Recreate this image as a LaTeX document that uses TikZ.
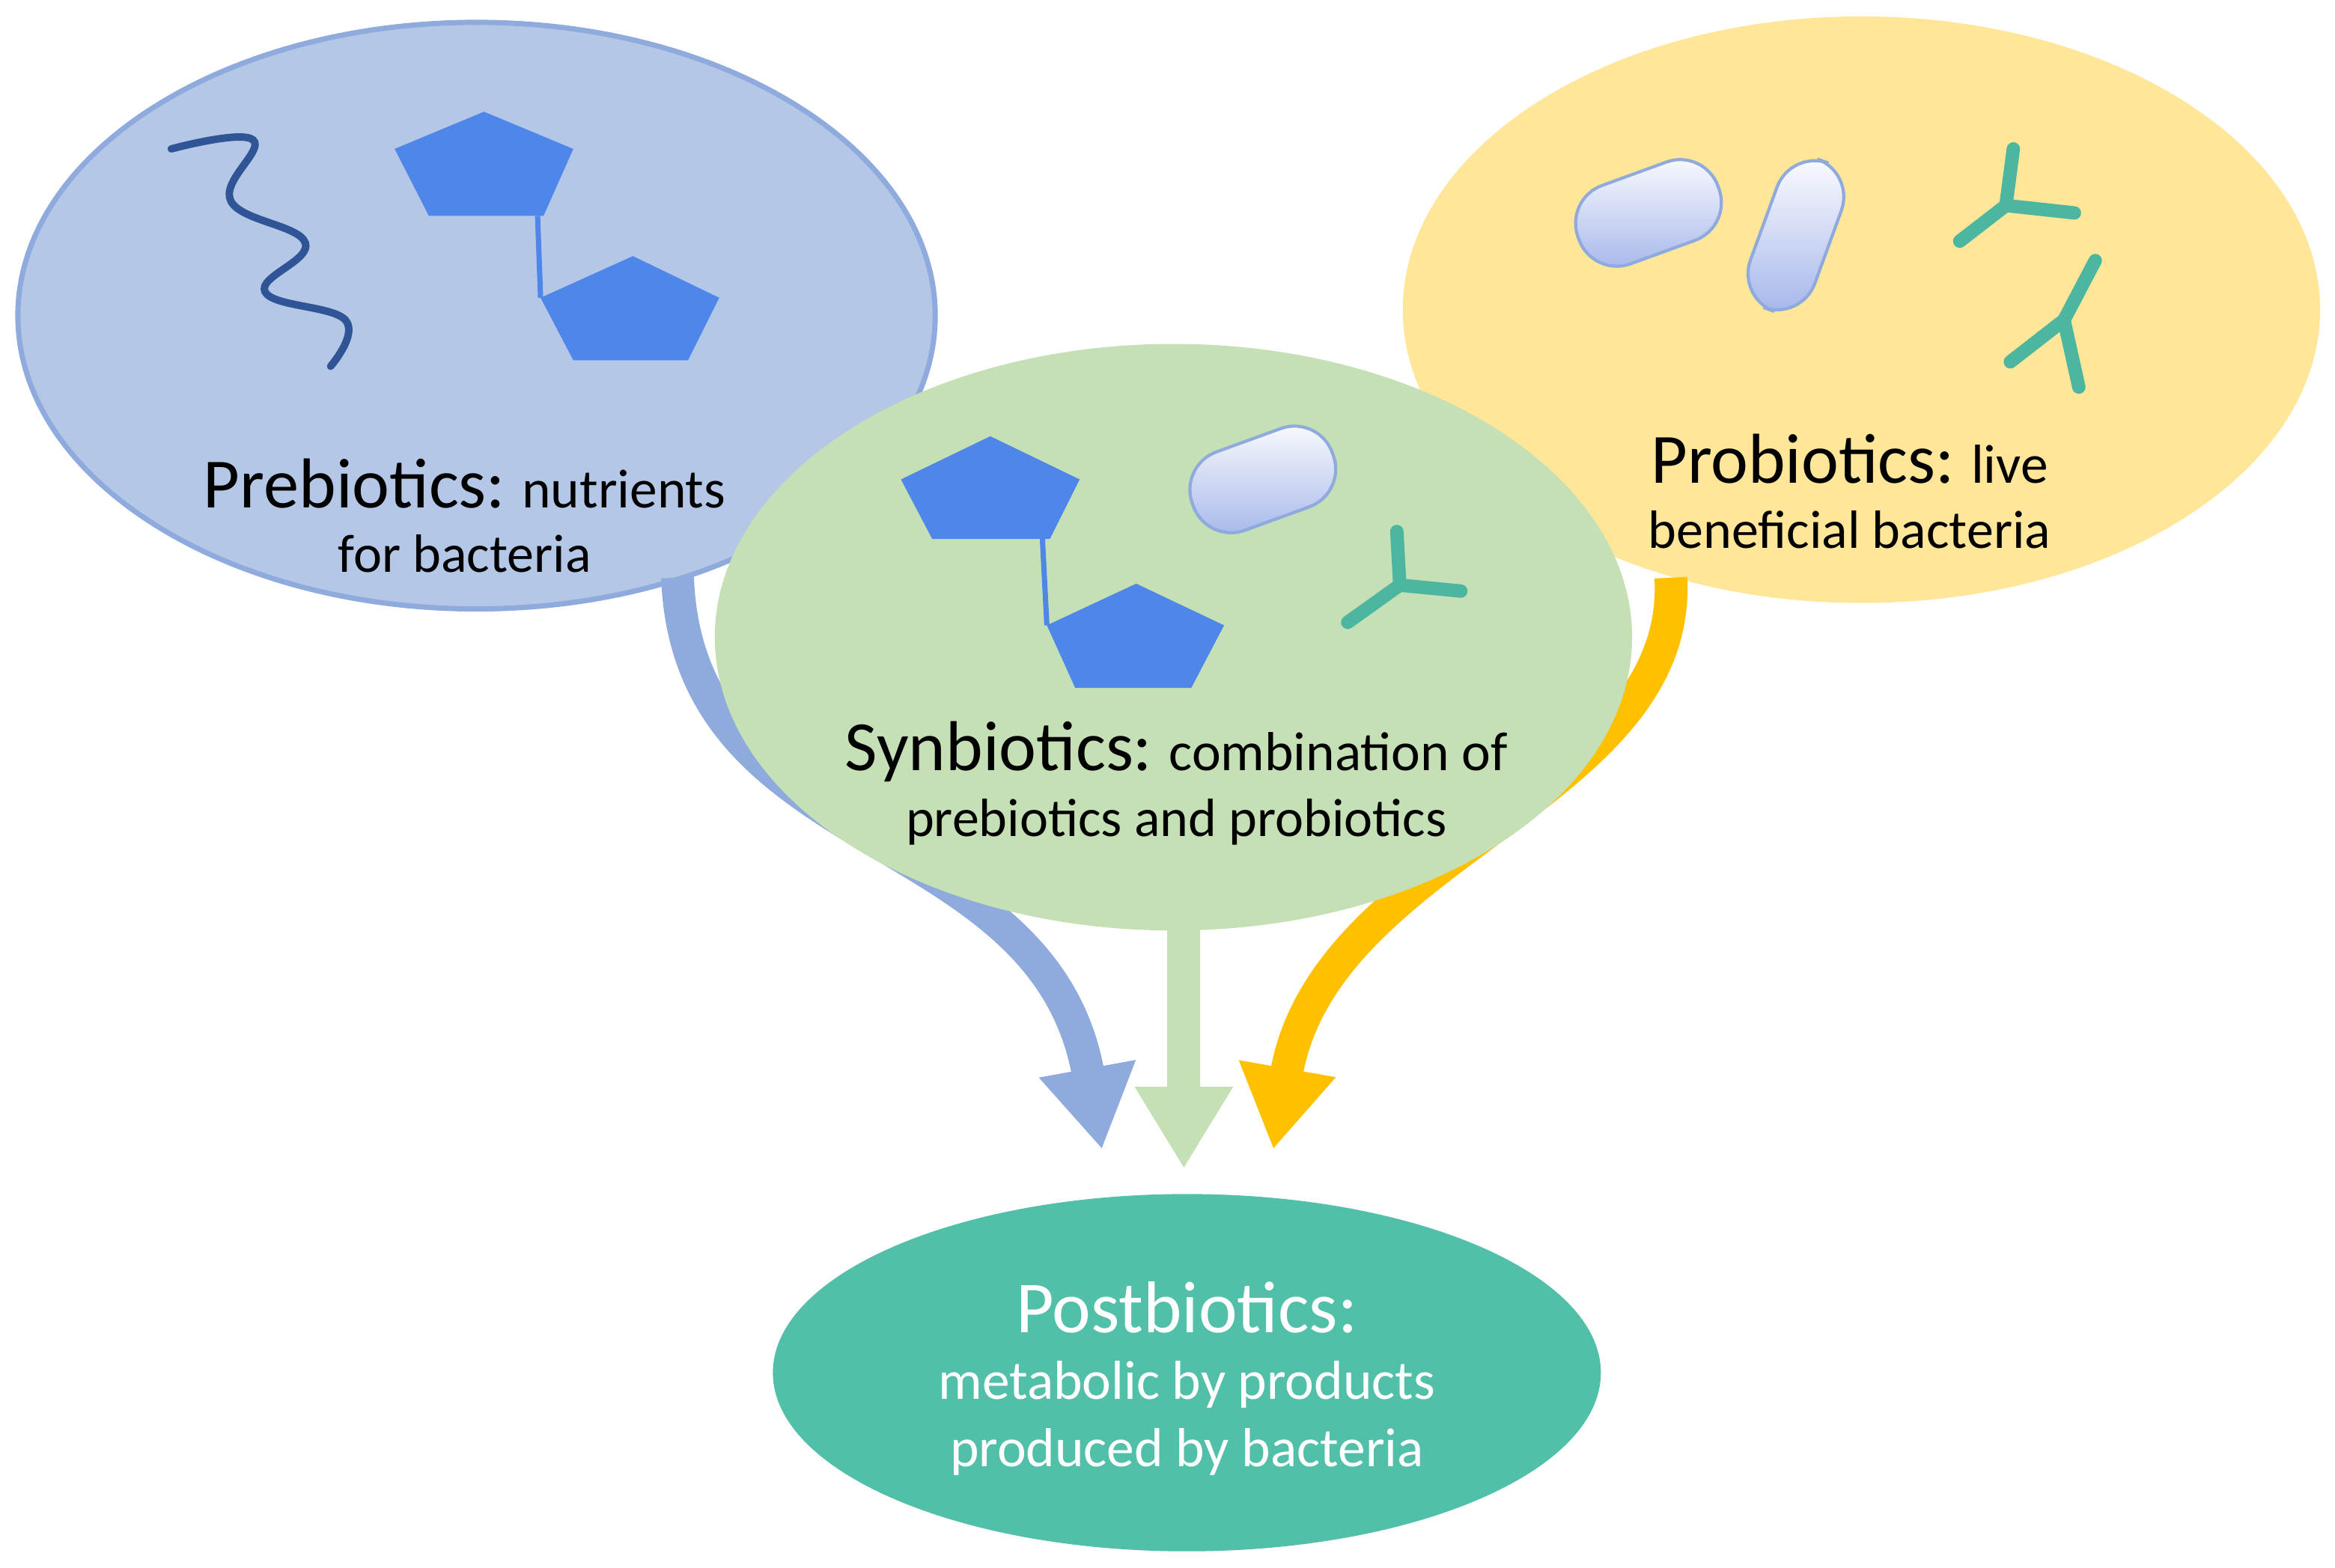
\documentclass[tikz,border=0pt]{standalone}
\usepackage{fontspec}
\setmainfont{Carlito}
\usetikzlibrary{arrows.meta}
\definecolor{pb}{HTML}{B4C7E7}\definecolor{pbe}{HTML}{8FAADC}
\definecolor{py}{HTML}{FFE699}\definecolor{pg}{HTML}{C5E0B4}
\definecolor{pt}{HTML}{52BFA8}\definecolor{pent}{HTML}{4F86EA}
\definecolor{wave}{HTML}{2F5597}\definecolor{yel}{HTML}{FFC000}
\definecolor{teal}{HTML}{4DB6A0}
\begin{document}
\begin{tikzpicture}[x=0.01cm,y=-0.01cm,
 arr/.style={line width=0.22cm,-{Triangle[width=0.62cm,length=0.55cm]}},
 pentagon/.style={fill=pent,draw=none},
 rod/.style={draw=pbe,line width=0.6pt,top color=white,bottom color=pb!90!blue,rounded corners=0.27cm},
 yarm/.style={teal,line width=0.09cm,line cap=round},
 sm/.style={font=\fontsize{10.3}{12}\selectfont}]
\useasboundingbox (0,0) rectangle (1568,1053);
% ellipses
\fill[pb,draw=pbe,line width=1pt] (320,212) ellipse [x radius=308,y radius=197];
\fill[py] (1250,208) ellipse [x radius=308,y radius=197];
\coordinate (pro) at (1250,208);
% arrows behind green
\coordinate (a1) at (455,388); \coordinate (b1) at (740,772);
\coordinate (a2) at (795,600); \coordinate (b2) at (795,785);
\coordinate (a3) at (1122,388); \coordinate (b3) at (855,772);
\draw[arr,pbe] (a1) .. controls (462,578) and (700,552) .. (b1);
\draw[arr,yel] (a3) .. controls (1130,535) and (890,572) .. (b3);
\draw[arr,pg] (a2) -- (b2);
\fill[pg] (788,428) ellipse [x radius=308,y radius=197];
\coordinate (syn) at (788,428);
\fill[pt] (797,922) ellipse [x radius=278,y radius=120];
\coordinate (post) at (797,922);
% wave
\draw[wave,line width=0.05cm,line cap=round] plot[smooth,tension=0.7] coordinates{(115,100)(170,94)(155,135)(205,163)(178,196)(232,215)(222,246)};
% pentagons
\fill[pentagon] (325,75)--(385,100)--(365,145)--(288,145)--(265,100)--cycle;
\fill[pentagon] (425,172)--(483,200)--(462,242)--(385,242)--(363,200)--cycle;
\draw[pent,line width=1pt] (361,145)--(363,200);
\fill[pentagon] (665,293)--(725,322)--(705,362)--(626,362)--(605,322)--cycle;
\fill[pentagon] (763,392)--(822,420)--(800,462)--(722,462)--(703,420)--cycle;
\draw[pent,line width=1pt] (700,362)--(703,420);
% rods
\draw[rod,rotate around={20:(1107,143)}] (1057,115) rectangle (1157,171);
\draw[rod,rotate around={70:(1206,158)}] (1153,135) rectangle (1259,181);
\draw[rod,rotate around={20:(848,322)}] (798,294) rectangle (898,350);
% Y shapes
\draw[yarm] (1347,138)--(1352,100); \draw[yarm] (1347,138)--(1393,143); \draw[yarm] (1347,138)--(1316,162);
\draw[yarm] (1386,215)--(1407,175); \draw[yarm] (1386,215)--(1350,243); \draw[yarm] (1386,215)--(1396,260);
\draw[yarm] (940,393)--(938,357); \draw[yarm] (940,393)--(981,397); \draw[yarm] (940,393)--(905,418);
% texts
\node (t1) at (312,325) {\fontsize{13.5}{16}\selectfont Prebiotics:\fontsize{10.5}{12}\selectfont{} nutrients};
\node[sm] (t2) at (312,372) {for bacteria};
\node (t3) at (790,505) {\fontsize{13.5}{16}\selectfont Synbiotics:\fontsize{10.5}{12}\selectfont{} combination of};
\node[sm] (t4) at (790,552) {prebiotics and probiotics};
\node (t5) at (1242,308) {\fontsize{13.5}{16}\selectfont Probiotics:\fontsize{10.5}{12}\selectfont{} live};
\node[sm] (t6) at (1242,356) {beneficial bacteria};
\node[white] (t7) at (797,878) {\fontsize{14}{17}\selectfont Postbiotics:};
\node[white,font=\fontsize{10.5}{12}\selectfont] (t8) at (797,930) {metabolic by products};
\node[white,font=\fontsize{10.5}{12}\selectfont] (t9) at (797,975) {produced by bacteria};
\end{tikzpicture}
\end{document}
